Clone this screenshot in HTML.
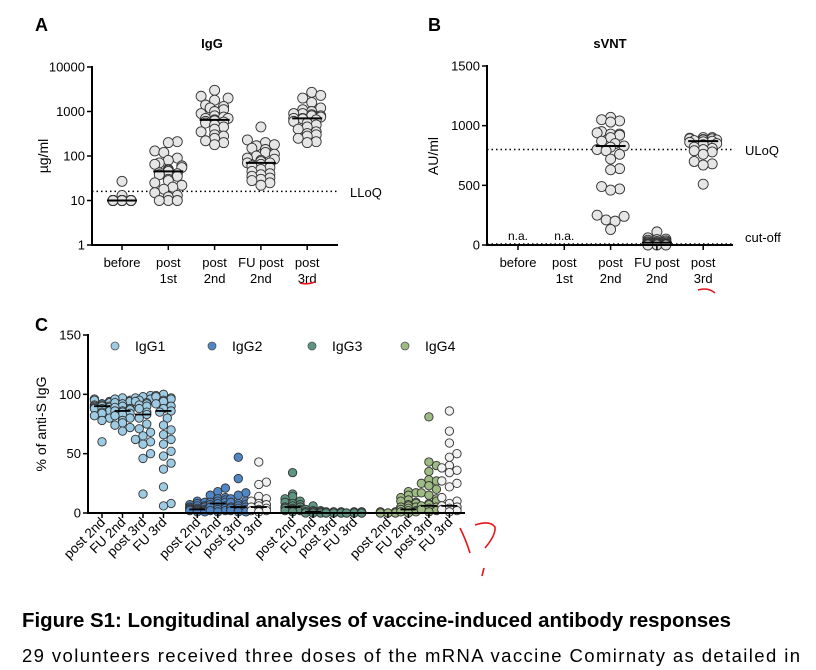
<!DOCTYPE html>
<html><head><meta charset="utf-8"><style>
html,body{margin:0;padding:0;background:#fff;}
svg{display:block;font-family:"Liberation Sans",Arial,sans-serif;}
</style></head><body>
<svg id="fig" width="816" height="670" viewBox="0 0 816 670">
<rect x="0" y="0" width="816" height="670" fill="#fff"/>
<g id="pa"></g>
<g id="pb"></g>
<g id="pc"></g>
<text x="22" y="627" font-size="20" font-weight="bold" textLength="709" lengthAdjust="spacingAndGlyphs">Figure S1: Longitudinal analyses of vaccine-induced antibody responses</text>
<text x="22" y="662" font-size="18.5" textLength="778" lengthAdjust="spacing">29 volunteers received three doses of the mRNA vaccine Comirnaty as detailed in</text>
<path d="M300 283 Q307 285 315 282" stroke="#e8141a" stroke-width="1.6" fill="none"/>
<path d="M698 290 Q708 287 715 293" stroke="#e8141a" stroke-width="1.6" fill="none"/>
<path d="M460 528 Q466 540 470 553 M475 525 Q490 520 495 527 Q496 535 485 548 M484 568 L482 576" stroke="#e8141a" stroke-width="1.6" fill="none"/>
</svg>
<script>
// ---------- Panel A data ----------
const catsAB = [["before",""],["post","1st"],["post","2nd"],["FU post","2nd"],["post","3rd"]];
const igBefore = [27,13,10,10,10,10,10,10,10,10,10,10,10,10,10,10,10,10,10,10,10,10,10,10,10,10,10,10,10];
const igPost1 = [210,200,130,120,90,80,70,65,60,55,50,48,45,42,40,38,35,30,28,25,22,20,18,15,13,12,10,10,10];
const igPost2 = [3000,2200,2000,1800,1400,1300,1200,1100,1000,900,800,750,700,700,650,620,600,580,550,500,450,400,350,300,280,250,220,200,180];
const igFU2 = [450,230,200,180,170,150,140,120,110,100,90,85,80,75,70,70,65,60,55,50,45,40,38,35,32,30,28,25,22];
const igPost3 = [2700,2300,2000,1600,1200,1100,1000,900,900,850,800,800,750,700,700,680,650,600,550,500,450,400,350,320,300,280,250,210,200];
const igMedians = [10,45,650,70,700];
const igTicks = [1,10,100,1000,10000];
const lloq = 16;
// ---------- Panel B data ----------
const sv2 = [1070,1050,1040,1030,950,940,930,930,920,900,870,850,830,820,800,790,760,720,640,630,490,470,460,250,240,210,200,130];
const svFU2 = [110,60,50,45,40,35,30,28,25,20,18,15,12,10,8,5,5,3,2,0,0,0];
const sv3 = [900,900,895,890,890,885,880,880,875,870,865,860,850,840,820,810,800,790,780,760,700,680,670,510];
const svMedians = [null,null,830,20,870];
const svTicks = [0,500,1000,1500];
const uloq = 800;
// ---------- Panel C data ----------
const subCats = ["post 2nd","FU 2nd","post 3rd","FU 3rd"];
const subNames = ["IgG1","IgG2","IgG3","IgG4"];
const subColors = ["#9dcbe3","#4f86c6","#5e9580","#9dbb82"];
const g1 = [[96,95,94,93,93,92,92,91,91,90,90,90,89,89,88,88,87,86,85,84,82,80,78,60],[97,96,95,94,93,92,90,89,88,87,86,86,85,84,83,82,80,78,76,74,72,69],[99,98,97,96,95,94,93,92,91,90,88,85,83,80,75,71,68,65,62,60,58,50,46,16],[100,99,98,97,96,95,94,92,90,88,86,85,80,74,70,66,62,58,52,48,42,37,22,8,6]];
const g2 = [[10,9,8,7,6,6,5,5,4,4,3,3,3,2,2,2,1,1],[21,18,15,13,12,11,10,9,9,8,7,6,5,5,4,3,2,2,1],[47,29,17,15,12,10,9,8,7,6,5,5,4,4,3,2,2,1,1],[43,26,24,14,12,10,8,7,6,5,4,3,2,2,1]];
const g3 = [[34,16,14,12,10,9,8,7,6,5,5,4,4,3,3,2,2,1],[6,3,2,2,1,1,1,1,0,0,0,0,0],[1,1,1,0,0,0,0,0,0,0,0,0],[1,1,0,0,0,0,0,0,0,0,0]];
const g4 = [[1,1,0,0,0,0,0,0,0],[18,17,15,13,11,10,9,8,7,6,5,5,4,3,2,2,1,1,0],[81,43,40,35,28,27,25,23,20,17,15,12,10,8,7,6,5,4,3,2,1],[86,69,59,50,47,40,38,36,34,27,25,22,13,10,8,6,5,4,3,2,1]];
const subMedians = [[90,86,83,86],[3,8,5,5],[5,1,0,0],[0,3,6,6]];
const pctTicks = [0,50,100,150];

const NS="http://www.w3.org/2000/svg";
function mk(parent,tag,attrs,name,txt){const e=document.createElementNS(NS,tag);for(const k in attrs)e.setAttribute(k,attrs[k]);


if(txt!==undefined)e.textContent=txt;parent.appendChild(e);return e;}

// beeswarm placement (bounded width, least-overlap fallback)
function swarm(ys,r,maxW,sep){const placed=[];const order=ys.map((y,i)=>i).sort((a,b)=>ys[b]-ys[a]);const out=new Array(ys.length);
const step=r*0.9;
for(const i of order){const y=ys[i];let best=null;let bestCount=1e9,bestDx=0;
for(let k=0;k<80;k++){const dx=(k%2?1:-1)*Math.ceil(k/2)*step;if(Math.abs(dx)>maxW)continue;
const cnt=placed.filter(p=>(p[0]-dx)**2+(p[1]-y)**2<(sep*r)**2).length;
if(cnt===0){best=dx;break;}if(cnt<bestCount){bestCount=cnt;bestDx=dx;}}
if(best===null)best=bestDx;placed.push([best,y]);out[i]=best;}return out;}

function dots(g,x,ys,r,fill,maxW,name,sep){const off=swarm(ys,r,maxW,sep);ys.forEach((y,i)=>{mk(g,'circle',{cx:x+off[i],cy:y,r:r,fill:fill,stroke:'#333','stroke-width':0.9},name);});}

// ---------- Panel A ----------
(function(){const g=document.getElementById('pa');const x0=92,x1=338,yTop=67,yBot=245;
const ya=v=>yBot-(Math.log10(v))/4*(yBot-yTop);const xa=i=>122+i*46.3;
mk(g,'text',{x:35,y:31,'font-size':18,'font-weight':'bold'},'panel-a-letter','A');
mk(g,'text',{x:212,y:48,'font-size':13,'font-weight':'bold','text-anchor':'middle'},'chart-title-a','IgG');
mk(g,'text',{x:48,y:156,'font-size':14,'text-anchor':'middle',transform:'rotate(-90 48 156)'},'y-axis-title-a','µg/ml');
mk(g,'line',{x1:x0,y1:ya(lloq),x2:x1,y2:ya(lloq),stroke:'#000','stroke-width':1.5,'stroke-dasharray':'1.5 3'},'lloq-line');
mk(g,'text',{x:350,y:197,'font-size':13},'lloq-label','LLoQ');
const groups=[igBefore,igPost1,igPost2,igFU2,igPost3];
groups.forEach((d,i)=>{dots(g,xa(i),d.map(ya),5,'#e6e6e6',17,'dot-igg',1.8);
mk(g,'line',{x1:xa(i)-15,x2:xa(i)+15,y1:ya(igMedians[i]),y2:ya(igMedians[i]),stroke:'#000','stroke-width':2},'median-igg');});
mk(g,'line',{x1:x0,y1:yTop-1,x2:x0,y2:yBot+1,stroke:'#000','stroke-width':2},'y-axis-a');
mk(g,'line',{x1:x0-1,y1:yBot,x2:x1,y2:yBot,stroke:'#000','stroke-width':2},'x-axis-a');
igTicks.forEach(t=>{mk(g,'line',{x1:x0-5,x2:x0,y1:ya(t),y2:ya(t),stroke:'#000','stroke-width':1.5},'y-tick-a');
mk(g,'text',{x:x0-7,y:ya(t)+4.5,'font-size':13,'text-anchor':'end'},'y-tick-label-a',String(t));});
catsAB.forEach((c,i)=>{mk(g,'line',{x1:xa(i),x2:xa(i),y1:yBot,y2:yBot+5,stroke:'#000','stroke-width':1.5},'x-tick-a');
mk(g,'text',{x:xa(i),y:267,'font-size':13,'text-anchor':'middle'},'x-label-a',c[0]);
if(c[1])mk(g,'text',{x:xa(i),y:283,'font-size':13,'text-anchor':'middle'},'x-label-a',c[1]);});
})();

// ---------- Panel B ----------
(function(){const g=document.getElementById('pb');const x0=487,x1=733,yTop=66,yBot=245;
const ya=v=>yBot-v/1500*(yBot-yTop);const xa=i=>518+i*46.3;
mk(g,'text',{x:428,y:31,'font-size':18,'font-weight':'bold'},'panel-b-letter','B');
mk(g,'text',{x:610,y:48,'font-size':13,'font-weight':'bold','text-anchor':'middle'},'chart-title-b','sVNT');
mk(g,'text',{x:438,y:156,'font-size':14,'text-anchor':'middle',transform:'rotate(-90 438 156)'},'y-axis-title-b','AU/ml');
mk(g,'line',{x1:x0,y1:ya(uloq),x2:x1,y2:ya(uloq),stroke:'#000','stroke-width':1.5,'stroke-dasharray':'1.5 3'},'uloq-line');
mk(g,'text',{x:745,y:155,'font-size':13},'uloq-label','ULoQ');
mk(g,'line',{x1:x0,y1:ya(0)-1,x2:x1,y2:ya(0)-1,stroke:'#000','stroke-width':1.5,'stroke-dasharray':'1.5 3'},'cutoff-line');
mk(g,'text',{x:745,y:242,'font-size':13},'cutoff-label','cut-off');
const groups=[[],[],sv2,svFU2,sv3];
groups.forEach((d,i)=>{if(!d.length){mk(g,'text',{x:xa(i),y:240,'font-size':12,'text-anchor':'middle'},'na-label','n.a.');return;}
dots(g,xa(i),d.map(ya),5,'#e6e6e6',17,'dot-svnt',1.8);
mk(g,'line',{x1:xa(i)-15,x2:xa(i)+15,y1:ya(svMedians[i]),y2:ya(svMedians[i]),stroke:'#000','stroke-width':2},'median-svnt');});
mk(g,'line',{x1:x0,y1:yTop-1,x2:x0,y2:yBot+1,stroke:'#000','stroke-width':2},'y-axis-b');
mk(g,'line',{x1:x0-1,y1:yBot,x2:x1,y2:yBot,stroke:'#000','stroke-width':2},'x-axis-b');
svTicks.forEach(t=>{mk(g,'line',{x1:x0-5,x2:x0,y1:ya(t),y2:ya(t),stroke:'#000','stroke-width':1.5},'y-tick-b');
mk(g,'text',{x:x0-7,y:ya(t)+4.5,'font-size':13,'text-anchor':'end'},'y-tick-label-b',String(t));});
catsAB.forEach((c,i)=>{mk(g,'line',{x1:xa(i),x2:xa(i),y1:yBot,y2:yBot+5,stroke:'#000','stroke-width':1.5},'x-tick-b');
mk(g,'text',{x:xa(i),y:267,'font-size':13,'text-anchor':'middle'},'x-label-b',c[0]);
if(c[1])mk(g,'text',{x:xa(i),y:283,'font-size':13,'text-anchor':'middle'},'x-label-b',c[1]);});
})();

// ---------- Panel C ----------
(function(){const g=document.getElementById('pc');const x0=88,x1=465,yTop=335,yBot=513;
const ya=v=>yBot-v/150*(yBot-yTop);const xa=(s,j)=>102+s*95.3+j*20.5;
mk(g,'text',{x:35,y:331,'font-size':18,'font-weight':'bold'},'panel-c-letter','C');
mk(g,'text',{x:46,y:424,'font-size':14,'text-anchor':'middle',transform:'rotate(-90 46 424)'},'y-axis-title-c','% of anti-S IgG');
const legX=[115,212,312,405];
subNames.forEach((n,s)=>{mk(g,'circle',{cx:legX[s],cy:346,r:4,fill:subColors[s],stroke:'#555','stroke-width':0.8},'legend-marker');
mk(g,'text',{x:legX[s]+20,y:351,'font-size':14},'legend-entry',n);});
const all=[g1,g2,g3,g4];
all.forEach((grp,s)=>grp.forEach((d,j)=>{const fill=j===3&&s!==2&&s!==0?'#f2f2f2':subColors[s];
dots(g,xa(s,j),d.map(ya),4.2,fill,9,'dot-'+subNames[s].toLowerCase(),1.7);
mk(g,'line',{x1:xa(s,j)-8,x2:xa(s,j)+8,y1:ya(subMedians[s][j]),y2:ya(subMedians[s][j]),stroke:'#000','stroke-width':1.8},'median-subclass');
mk(g,'line',{x1:xa(s,j),x2:xa(s,j),y1:yBot,y2:yBot+5,stroke:'#000','stroke-width':1.5},'x-tick-c');
const lx=xa(s,j)+4,ly=523;mk(g,'text',{x:lx,y:ly,'font-size':13.5,'text-anchor':'end',transform:'rotate(-45 '+lx+' '+ly+')'},'x-label-c',subCats[j]);}));
mk(g,'line',{x1:x0,y1:yTop-1,x2:x0,y2:yBot+1,stroke:'#000','stroke-width':2},'y-axis-c');
mk(g,'line',{x1:x0-1,y1:yBot,x2:x1,y2:yBot,stroke:'#000','stroke-width':2},'x-axis-c');
pctTicks.forEach(t=>{mk(g,'line',{x1:x0-5,x2:x0,y1:ya(t),y2:ya(t),stroke:'#000','stroke-width':1.5},'y-tick-c');
mk(g,'text',{x:x0-7,y:ya(t)+4.5,'font-size':13,'text-anchor':'end'},'y-tick-label-c',String(t));});
})();
</script>
</body></html>
